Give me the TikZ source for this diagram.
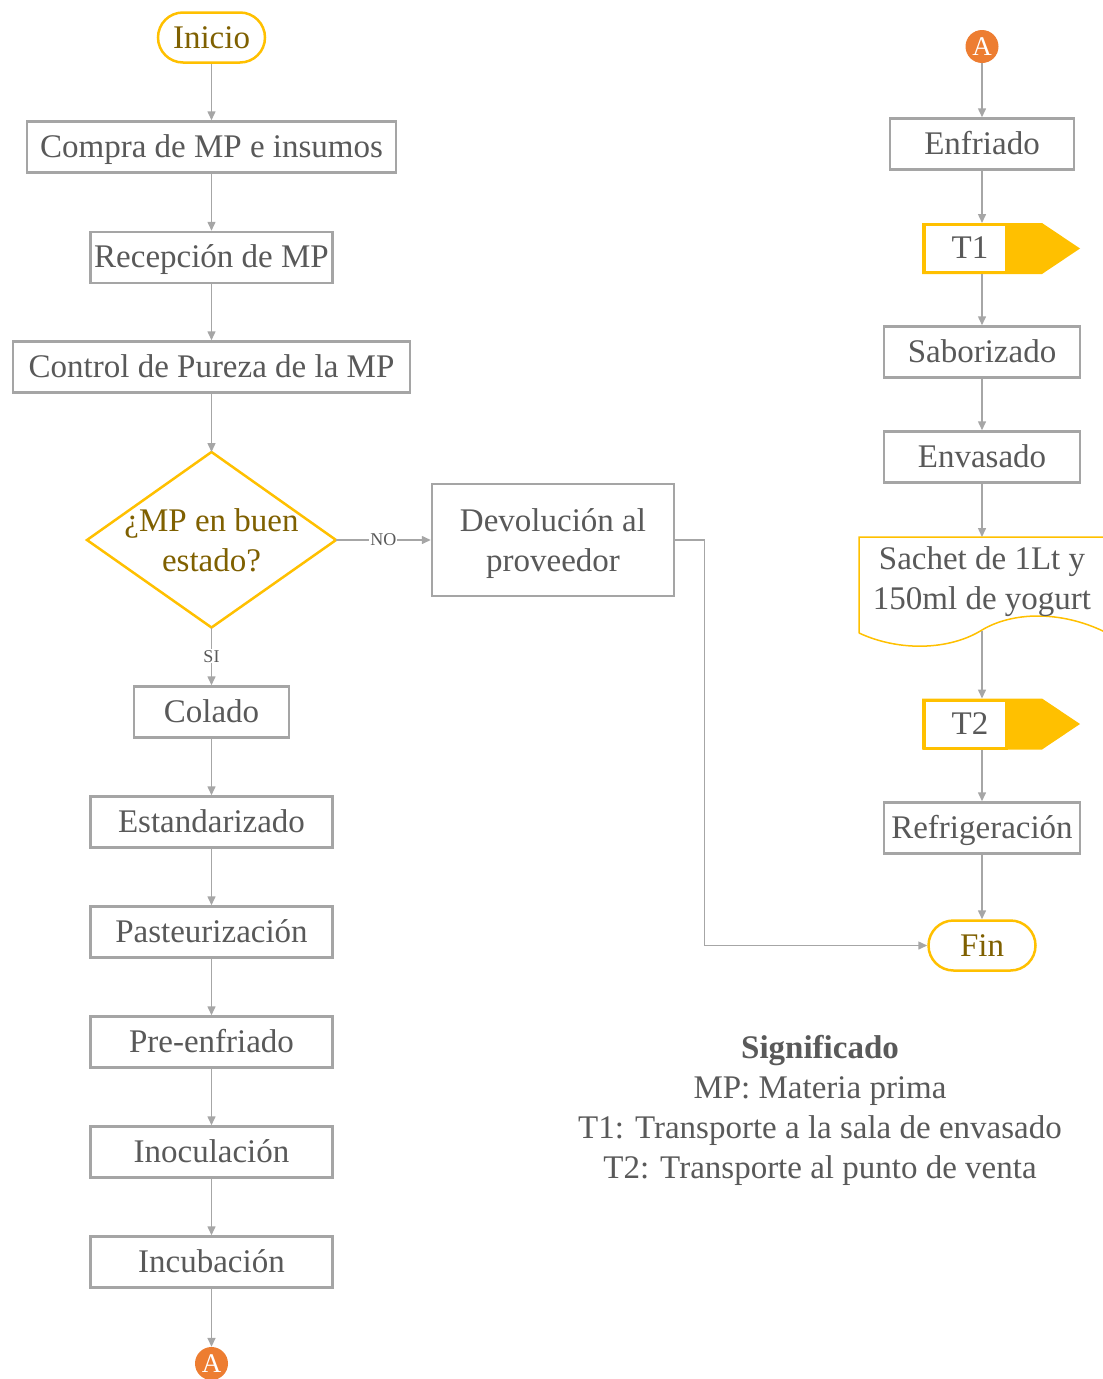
\documentclass[tikz,border=0pt]{standalone}
\usepackage{fontspec}
\setmainfont{Liberation Serif}
\usetikzlibrary{arrows.meta}
\definecolor{boxgray}{HTML}{A5A5A5}
\definecolor{txtgray}{HTML}{595959}
\definecolor{gold}{HTML}{FFC000}
\definecolor{darkgold}{HTML}{7F6000}
\definecolor{orangeA}{HTML}{ED7D31}
\definecolor{linegray}{HTML}{A6A6A6}
\newcommand\bigfont{\fontsize{33}{40}\selectfont}
\tikzset{
  proc/.style={draw=boxgray, line width=2.5pt, fill=white, text=txtgray,
    minimum height=51pt, inner sep=0pt, text height=25pt, text depth=5pt, font=\bigfont},
  term/.style={draw=gold, line width=2.5pt, rounded corners=25pt, fill=white,
    minimum width=107pt, minimum height=50pt, inner sep=0pt, text=darkgold, font=\bigfont},
  conn/.style={draw=linegray, line width=1.5pt, -{Triangle[length=9pt,width=8pt]}},
  connA/.style={circle, fill=orangeA, minimum size=33pt, inner sep=0pt, text=white,
    font=\fontsize{27}{27}\selectfont},
  tagbox/.style={draw=gold, line width=3pt, fill=white, minimum width=82pt,
    minimum height=48pt, inner sep=0pt},
  plain/.style={text=txtgray, align=center, font=\bigfont},
  lbl/.style={fill=white, inner sep=1pt, text=txtgray, font=\fontsize{18}{18}\selectfont},
}
% transport tag: yellow pointer with a white label box
\newcommand\transtag[3]{%
  \fill[gold] (922,{#2-25.5}) -- (1042,{#2-25.5}) -- (1080,#2) -- (1042,{#2+25.5}) -- (922,{#2+25.5}) -- cycle;
  \node[tagbox] (#1) at (965,#2) {};
  \node[plain, text height=25pt, text depth=5pt, inner sep=0pt] at (970,#2) {#3};}
\begin{document}
\begin{tikzpicture}[x=1pt,y=-1pt]
\useasboundingbox (0,0) rectangle (1103,1379);

% left column
\node[term] (ini) at (211.5,37.5) {Inicio};
\node[proc, minimum width=369pt] (com) at (211.5,147) {Compra de MP e insumos};
\node[proc, minimum width=242pt] (rec) at (211.5,257.5) {Recepción de MP};
\node[proc, minimum width=397pt] (ctl) at (211.5,367) {Control de Pureza de la MP};
% decision diamond
\draw[gold, line width=2.5pt, fill=white]
  (211.5,452) -- (336,540) -- (211.5,627.5) -- (87,540) -- cycle;
\coordinate (decN) at (211.5,452);
\coordinate (decE) at (336,540);
\coordinate (decS) at (211.5,627.5);
\node[plain, text=darkgold] (dec) at (211.5,540) {¿MP en buen\\estado?};
\node[proc, minimum width=242pt, minimum height=112pt] (dev) at (553,540) {};
\node[plain] (devt) at (553,544) {Devolución al\\proveedor};
\node[proc, minimum width=155pt] (col) at (211.5,712) {Colado};
\node[proc, minimum width=242pt] (est) at (211.5,822) {Estandarizado};
\node[proc, minimum width=242pt] (pas) at (211.5,932) {Pasteurización};
\node[proc, minimum width=242pt] (pre) at (211.5,1042) {Pre-enfriado};
\node[proc, minimum width=242pt] (ino) at (211.5,1152) {Inoculación};
\node[proc, minimum width=242pt] (inc) at (211.5,1262) {Incubación};
\node[connA] (a1) at (211.5,1363.5) {A};

% right column
\node[connA] (a2) at (982,46.5) {A};
\node[proc, minimum width=184pt] (enf) at (982,144) {Enfriado};
\transtag{t1}{248.5}{T1}
\node[proc, minimum width=196pt] (sab) at (982,352) {Saborizado};
\node[proc, minimum width=196pt] (env) at (982,457) {Envasado};
% product document shape
\draw[gold, line width=1.5pt, fill=white]
  (859,633) -- (859,537) -- (1105,537) -- (1105,632)
  .. controls (1060,610) and (1012,612) .. (982,630)
  .. controls (950,650) and (900,652) .. (859,633);
\coordinate (docT) at (982,537);
\coordinate (docB) at (982,631);
\node[plain] (doc) at (982,582) {Sachet de 1Lt y\\150ml de yogurt};
\transtag{t2}{724}{T2}
\node[proc, minimum width=196pt] (ref) at (982,828) {Refrigeración};
\node[term] (fin) at (982,945.5) {Fin};

% connectors
\draw[conn] (ini.south) -- (com.north);
\draw[conn] (com.south) -- (rec.north);
\draw[conn] (rec.south) -- (ctl.north);
\draw[conn] (ctl.south) -- (decN);
\draw[conn] (decE) -- node[lbl] {NO} (dev.west);
\draw[conn] (decS) -- node[lbl] {SI} (col.north);
\draw[conn] (col.south) -- (est.north);
\draw[conn] (est.south) -- (pas.north);
\draw[conn] (pas.south) -- (pre.north);
\draw[conn] (pre.south) -- (ino.north);
\draw[conn] (ino.south) -- (inc.north);
\draw[conn] (inc.south) -- (a1.north);
\draw[conn] (dev.east) -- ++(29,0) |- (fin.west);

\draw[conn] (a2.south) -- (enf.north);
\draw[conn] (enf.south) -- (enf.south |- t1.north);
\draw[conn] (enf.south |- t1.south) -- (sab.north);
\draw[conn] (sab.south) -- (env.north);
\draw[conn] (env.south) -- (docT);
\draw[conn] (docB) -- (docB |- t2.north);
\draw[conn] (docB |- t2.south) -- (ref.north);
\draw[conn] (ref.south) -- (fin.north);

% legend
\node[plain] (leg) at (820,1110)
  {\textbf{Significado}\\MP: Materia prima\\T1: Transporte a la sala de envasado\\T2: Transporte al punto de venta};
\end{tikzpicture}
\end{document}
